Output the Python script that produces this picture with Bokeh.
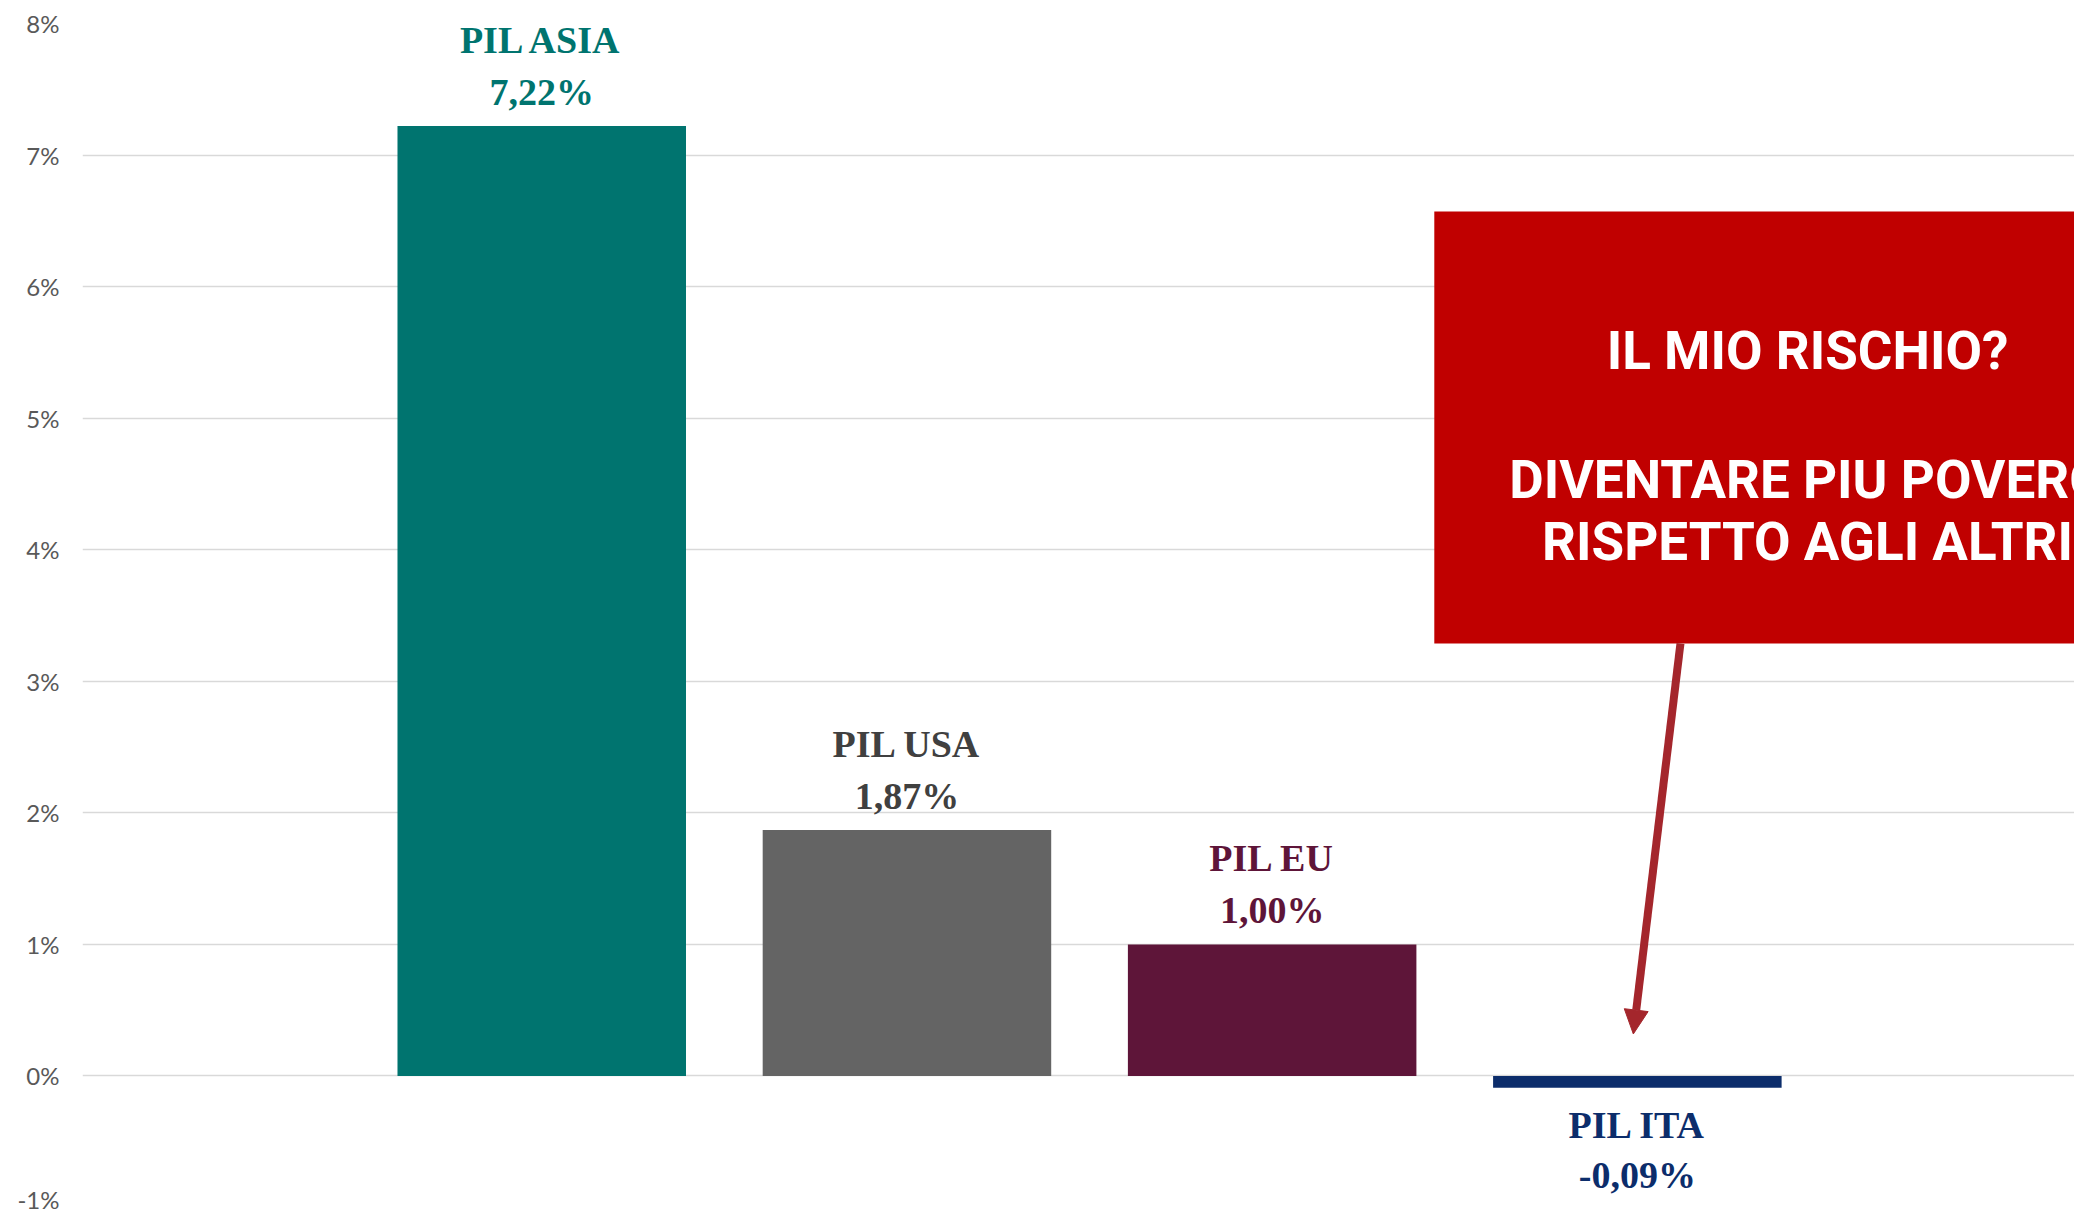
from bokeh.plotting import figure
from bokeh.models import (ColumnDataSource, Range1d, FixedTicker, PrintfTickFormatter,
                          LabelSet, Label, BoxAnnotation, Arrow, NormalHead)
from bokeh.core.properties import value
from bokeh.embed import file_html
from bokeh.resources import INLINE

# ---- data ----
categories = ["PIL ASIA", "PIL USA", "PIL EU", "PIL ITA"]
gdp_growth = [7.22, 1.87, 1.00, -0.09]          # percent
value_labels = ["7,22%", "1,87%", "1,00%", "-0,09%"]
bar_colors = ["#00746F", "#646464", "#5E1539", "#0C2D6B"]
label_colors = ["#00746F", "#404040", "#5E1539", "#0C2D6B"]
y_ticks = [-1, 0, 1, 2, 3, 4, 5, 6, 7, 8]

callout_lines = ["IL MIO RISCHIO?", "DIVENTARE PIU POVERO", "RISPETTO AGLI ALTRI"]

# ---- layout ----
xpos = list(range(len(categories)))
name_off = [73 if v >= 0 else -50 for v in gdp_growth]
val_off = [21 if v >= 0 else -100 for v in gdp_growth]

src = ColumnDataSource(dict(
    x=xpos, top=gdp_growth, cat=categories, lab=value_labels,
    color=bar_colors, tcolor=label_colors, noff=name_off, voff=val_off,
))

p = figure(width=2074, height=1213,
           x_range=Range1d(-1.2575, 4.197), y_range=Range1d(-1, 8),
           output_backend="svg", toolbar_location=None,
           x_axis_location=None,
           min_border_left=82, min_border_right=0, min_border_top=23, min_border_bottom=6)
p.outline_line_color = None
p.background_fill_color = "white"
p.border_fill_color = "white"

p.xgrid.visible = False
p.ygrid.ticker = FixedTicker(ticks=y_ticks)
p.ygrid.grid_line_color = "#D9D9D9"
p.ygrid.grid_line_width = 1.6

ax = p.yaxis[0]
ax.ticker = FixedTicker(ticks=y_ticks)
ax.formatter = PrintfTickFormatter(format="%d%%")
ax.axis_line_color = None
ax.major_tick_line_color = None
ax.minor_tick_line_color = None
ax.major_tick_in = 0
ax.major_tick_out = 0
ax.major_label_standoff = 23
ax.major_label_text_font = "Lato"
ax.major_label_text_font_size = "24px"
ax.major_label_text_color = "#595959"

p.vbar(x="x", top="top", bottom=0, width=0.79, color="color", line_color=None, source=src)

common = dict(text_font=value("Liberation Serif"), text_font_style="bold",
              text_font_size="38px", text_align="center", text_baseline="alphabetic")
p.add_layout(LabelSet(x="x", y="top", text="cat", y_offset="noff", text_color="tcolor",
                      source=src, **common))
p.add_layout(LabelSet(x="x", y="top", text="lab", y_offset="voff", text_color="tcolor",
                      source=src, **common))

# ---- callout ----
p.add_layout(BoxAnnotation(left=2.444, bottom=3.287, top=6.57, fill_color="#C00000",
                           fill_alpha=1.0, line_color=None, level="annotation"))
p.add_layout(Arrow(x_start=3.118, y_start=3.287, x_end=2.989, y_end=0.319,
                   line_color="#A4262C", line_width=8,
                   end=NormalHead(size=24, fill_color="#A4262C", line_color="#A4262C")))
for txt, yb in zip(callout_lines, [5.508, 4.533, 4.057]):
    p.add_layout(Label(x=3.466, y=yb, text=txt, text_color="white",
                       text_font="Roboto", text_font_style="bold",
                       text_font_size="53px", text_align="center", text_baseline="alphabetic"))

open("out.html", "w").write(file_html(p, INLINE))
